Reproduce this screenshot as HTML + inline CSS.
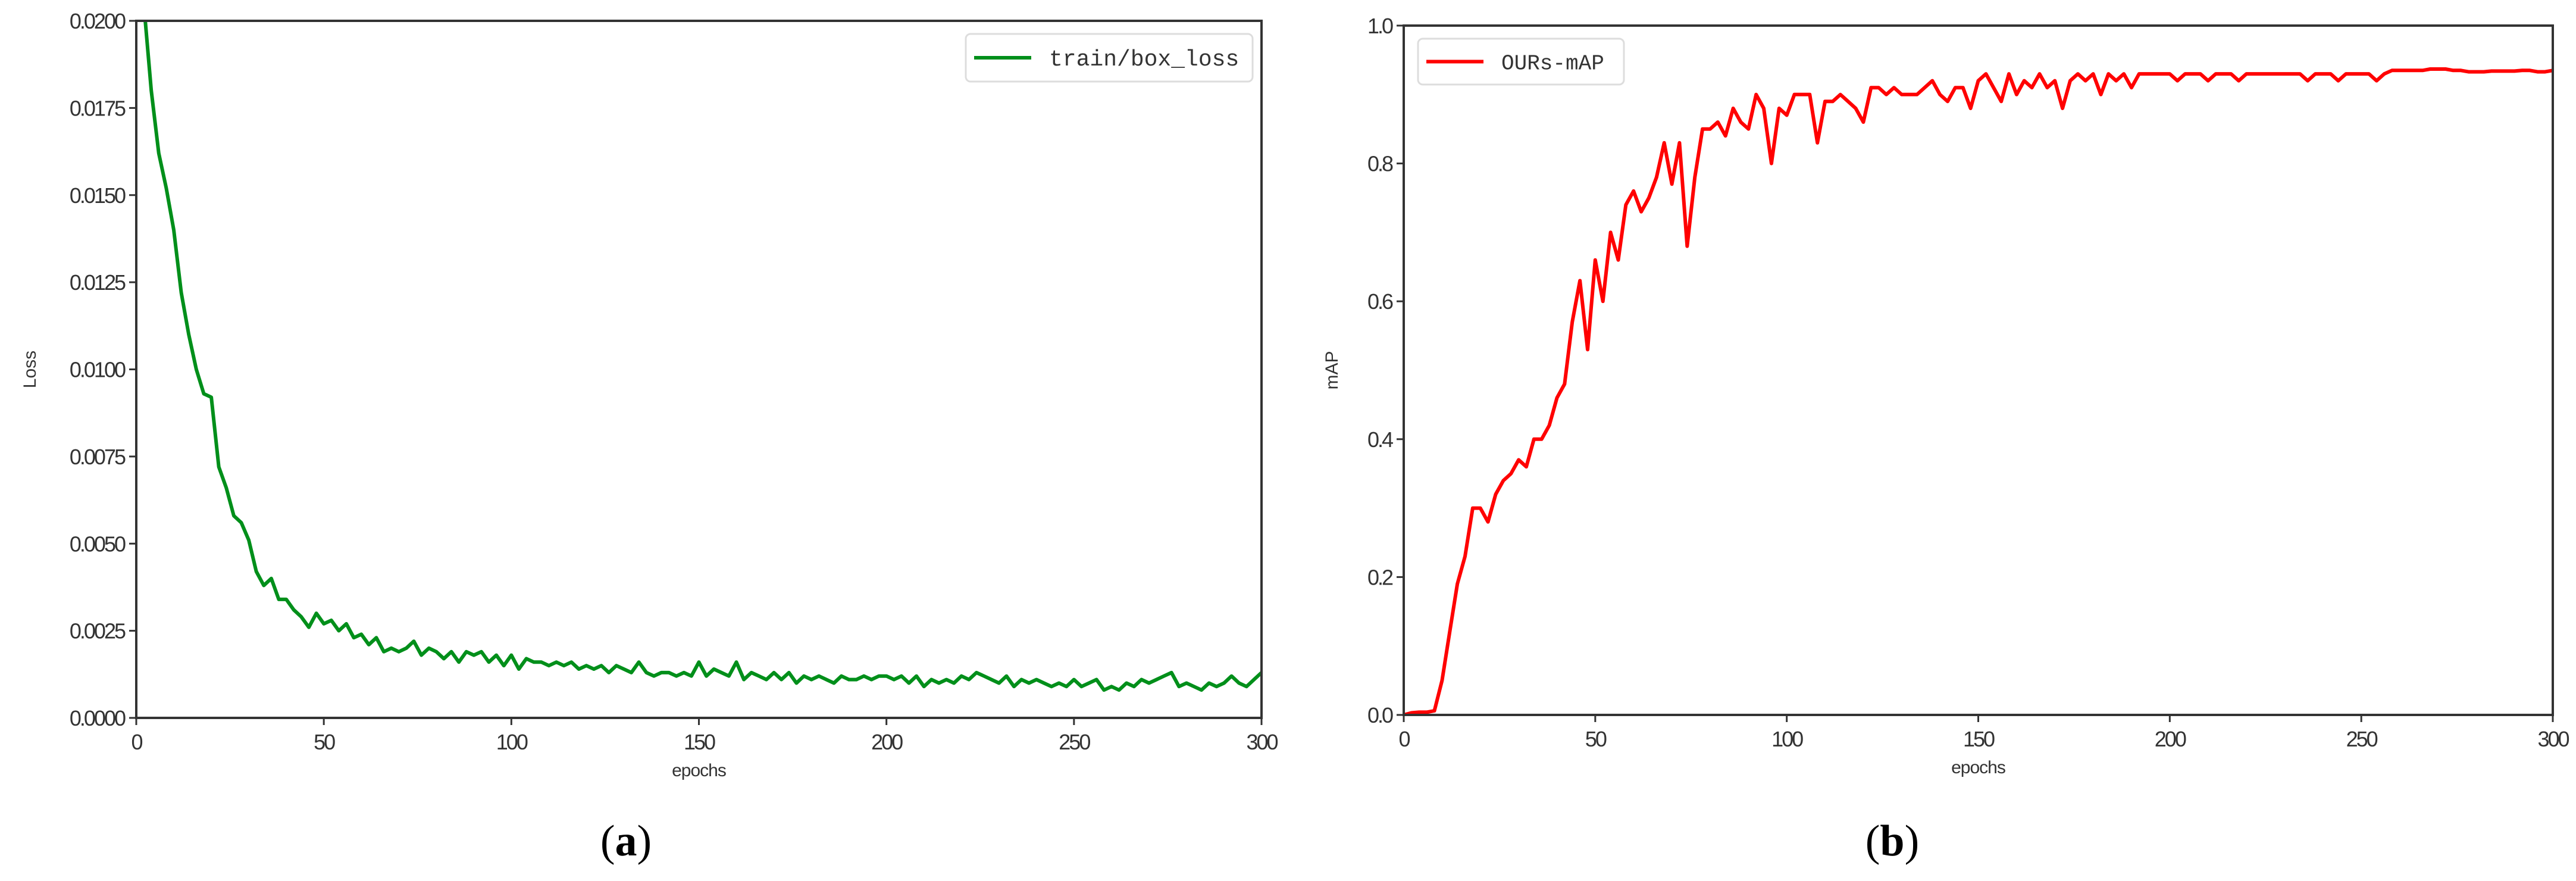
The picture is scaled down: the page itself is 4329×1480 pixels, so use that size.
<!DOCTYPE html>
<html><head><meta charset="utf-8"><style>
html,body{margin:0;padding:0;background:#fff;width:4329px;height:1480px;overflow:hidden}
svg{display:block}
text{fill:#333}
</style></head><body>
<svg id="fig" width="4329" height="1480"></svg>
<script>
const lossEpochs=[0,2,4,6,8,10,12,14,16,18,20,22,24,26,28,30,32,34,36,38,40,42,44,46,48,50,52,54,56,58,60,62,64,66,68,70,72,74,76,78,80,82,84,86,88,90,92,94,96,98,100,102,104,106,108,110,112,114,116,118,120,122,124,126,128,130,132,134,136,138,140,142,144,146,148,150,152,154,156,158,160,162,164,166,168,170,172,174,176,178,180,182,184,186,188,190,192,194,196,198,200,202,204,206,208,210,212,214,216,218,220,222,224,226,228,230,232,234,236,238,240,242,244,246,248,250,252,254,256,258,260,262,264,266,268,270,272,274,276,278,280,282,284,286,288,290,292,294,296,298,300];
const lossValues=[0.0235,0.0205,0.0180,0.0162,0.0152,0.0140,0.0122,0.0110,0.0100,0.0093,0.0092,0.0072,0.0066,0.0058,0.0056,0.0051,0.0042,0.0038,0.0040,0.0034,0.0034,0.0031,0.0029,0.0026,0.0030,0.0027,0.0028,0.0025,0.0027,0.0023,0.0024,0.0021,0.0023,0.0019,0.0020,0.0019,0.0020,0.0022,0.0018,0.0020,0.0019,0.0017,0.0019,0.0016,0.0019,0.0018,0.0019,0.0016,0.0018,0.0015,0.0018,0.0014,0.0017,0.0016,0.0016,0.0015,0.0016,0.0015,0.0016,0.0014,0.0015,0.0014,0.0015,0.0013,0.0015,0.0014,0.0013,0.0016,0.0013,0.0012,0.0013,0.0013,0.0012,0.0013,0.0012,0.0016,0.0012,0.0014,0.0013,0.0012,0.0016,0.0011,0.0013,0.0012,0.0011,0.0013,0.0011,0.0013,0.0010,0.0012,0.0011,0.0012,0.0011,0.0010,0.0012,0.0011,0.0011,0.0012,0.0011,0.0012,0.0012,0.0011,0.0012,0.0010,0.0012,0.0009,0.0011,0.0010,0.0011,0.0010,0.0012,0.0011,0.0013,0.0012,0.0011,0.0010,0.0012,0.0009,0.0011,0.0010,0.0011,0.0010,0.0009,0.0010,0.0009,0.0011,0.0009,0.0010,0.0011,0.0008,0.0009,0.0008,0.0010,0.0009,0.0011,0.0010,0.0011,0.0012,0.0013,0.0009,0.0010,0.0009,0.0008,0.0010,0.0009,0.0010,0.0012,0.0010,0.0009,0.0011,0.0013];
const mapEpochs=lossEpochs;
const mapValues=[0.00,0.003,0.004,0.004,0.006,0.05,0.12,0.19,0.23,0.30,0.30,0.28,0.32,0.34,0.35,0.37,0.36,0.40,0.40,0.42,0.46,0.48,0.57,0.63,0.53,0.66,0.60,0.70,0.66,0.74,0.76,0.73,0.75,0.78,0.83,0.77,0.83,0.68,0.78,0.85,0.85,0.86,0.84,0.88,0.86,0.85,0.90,0.88,0.80,0.88,0.87,0.90,0.90,0.90,0.83,0.89,0.89,0.90,0.89,0.88,0.86,0.91,0.91,0.90,0.91,0.90,0.90,0.90,0.91,0.92,0.90,0.89,0.91,0.91,0.88,0.92,0.93,0.91,0.89,0.93,0.90,0.92,0.91,0.93,0.91,0.92,0.88,0.92,0.93,0.92,0.93,0.90,0.93,0.92,0.93,0.91,0.93,0.93,0.93,0.93,0.93,0.92,0.93,0.93,0.93,0.92,0.93,0.93,0.93,0.92,0.93,0.93,0.93,0.93,0.93,0.93,0.93,0.93,0.92,0.93,0.93,0.93,0.92,0.93,0.93,0.93,0.93,0.92,0.93,0.935,0.935,0.935,0.935,0.935,0.937,0.937,0.937,0.935,0.935,0.933,0.933,0.933,0.934,0.934,0.934,0.934,0.935,0.935,0.933,0.933,0.935];
const xTicks=[0,50,100,150,200,250,300];
const lossTicks=[0,0.0025,0.005,0.0075,0.01,0.0125,0.015,0.0175,0.02];
const lossTickLabels=["0.0000","0.0025","0.0050","0.0075","0.0100","0.0125","0.0150","0.0175","0.0200"];
const mapTicks=[0,0.2,0.4,0.6,0.8,1.0];
const mapTickLabels=["0.0","0.2","0.4","0.6","0.8","1.0"];

const NS="http://www.w3.org/2000/svg";
const svg=document.getElementById('fig');
const SANS='font-family:"Liberation Sans",sans-serif';
function mk(tag,attrs,parent){const e=document.createElementNS(NS,tag);for(const k in attrs)e.setAttribute(k,attrs[k]);(parent||svg).appendChild(e);return e;}

function panel(cfg){
  const g=mk('g',{});
  
  
  const sx=v=>cfg.L+(v-0)/(300-0)*(cfg.R-cfg.L);
  const sy=v=>cfg.B-(v-cfg.ymin)/(cfg.ymax-cfg.ymin)*(cfg.B-cfg.T);
  const cid='clip-'+cfg.name;
  const cp=mk('clipPath',{id:cid},g);mk('rect',{x:cfg.L,y:cfg.T,width:cfg.R-cfg.L,height:cfg.B-cfg.T},cp);
  let d='';cfg.xs.forEach((x,i)=>{d+=(i?'L':'M')+sx(x).toFixed(1)+','+sy(cfg.ys[i]).toFixed(1);});
  const line=mk('path',{d:d,fill:'none',stroke:cfg.color,'stroke-width':6,'stroke-linejoin':'round','clip-path':'url(#'+cid+')'},g);
  
  
  const frame=mk('rect',{x:cfg.L,y:cfg.T,width:cfg.R-cfg.L,height:cfg.B-cfg.T,fill:'none',stroke:'#333','stroke-width':4},g);
  
  
  xTicks.forEach(t=>{
    mk('line',{x1:sx(t),x2:sx(t),y1:cfg.B,y2:cfg.B+12,stroke:'#333','stroke-width':3},g);
    const tx=mk('text',{x:sx(t),y:cfg.B+53,'text-anchor':'middle','font-size':36,'letter-spacing':-3,style:SANS},g);
    tx.textContent=t;
    
    
  });
  cfg.yt.forEach((t,i)=>{
    mk('line',{x1:cfg.L-12,x2:cfg.L,y1:sy(t),y2:sy(t),stroke:'#333','stroke-width':3},g);
    const ty=mk('text',{x:cfg.L-20,y:sy(t)+13,'text-anchor':'end','font-size':36,'letter-spacing':-3,style:SANS},g);
    ty.textContent=cfg.yl[i];
    
    
  });
  const xl=mk('text',{x:(cfg.L+cfg.R)/2,y:cfg.B+98,'text-anchor':'middle','font-size':30,'letter-spacing':-1,style:SANS},g);
  xl.textContent='epochs';
  
  
  const yl=mk('text',{x:cfg.ylx,y:(cfg.T+cfg.B)/2,'text-anchor':'middle','font-size':30,style:SANS,transform:'rotate(-90 '+cfg.ylx+' '+(cfg.T+cfg.B)/2+')'},g);
  yl.textContent=cfg.ytitle;
  
  
  const lg=mk('g',{},g);
  
  
  mk('rect',{x:cfg.lg[0],y:cfg.lg[1],width:cfg.lg[2],height:cfg.lg[3],rx:8,fill:'#fff',stroke:'#ddd','stroke-width':3},lg);
  mk('line',{x1:cfg.lg[0]+14,x2:cfg.lg[0]+110,y1:cfg.lg[1]+cfg.lg[3]/2,y2:cfg.lg[1]+cfg.lg[3]/2,stroke:cfg.color,'stroke-width':6},lg);
  const lt=mk('text',{x:cfg.lg[0]+140,y:cfg.lg[1]+cfg.lg[3]/2+13,'font-size':cfg.lfs,style:'font-family:"Liberation Mono",monospace'},lg);
  lt.textContent=cfg.label;
  
  
  const cap=mk('text',{x:cfg.capx,y:1437,'text-anchor':'middle','font-size':74,style:'font-family:"Liberation Serif",serif;fill:#000'},g);
  cap.innerHTML='(<tspan font-weight="bold">'+cfg.cap+'</tspan>)';
  
  
}
panel({name:'loss-chart',series:'train-box-loss-line',L:229,R:2120,T:35,B:1206,ymin:0,ymax:0.02,xs:lossEpochs,ys:lossValues,yt:lossTicks,yl:lossTickLabels,color:'#008f1a',ytitle:'Loss',ylx:60,lg:[1623,57,482,80],label:'train/box_loss',lfs:38,cap:'a',capx:1052});
panel({name:'map-chart',series:'ours-map-line',L:2359,R:4290,T:43,B:1201,ymin:0,ymax:1.0,xs:mapEpochs,ys:mapValues,yt:mapTicks,yl:mapTickLabels,color:'#ff0000',ytitle:'mAP',ylx:2248,lg:[2383,65,346,77],label:'OURs-mAP',lfs:36,cap:'b',capx:3180});
</script>
</body></html>
